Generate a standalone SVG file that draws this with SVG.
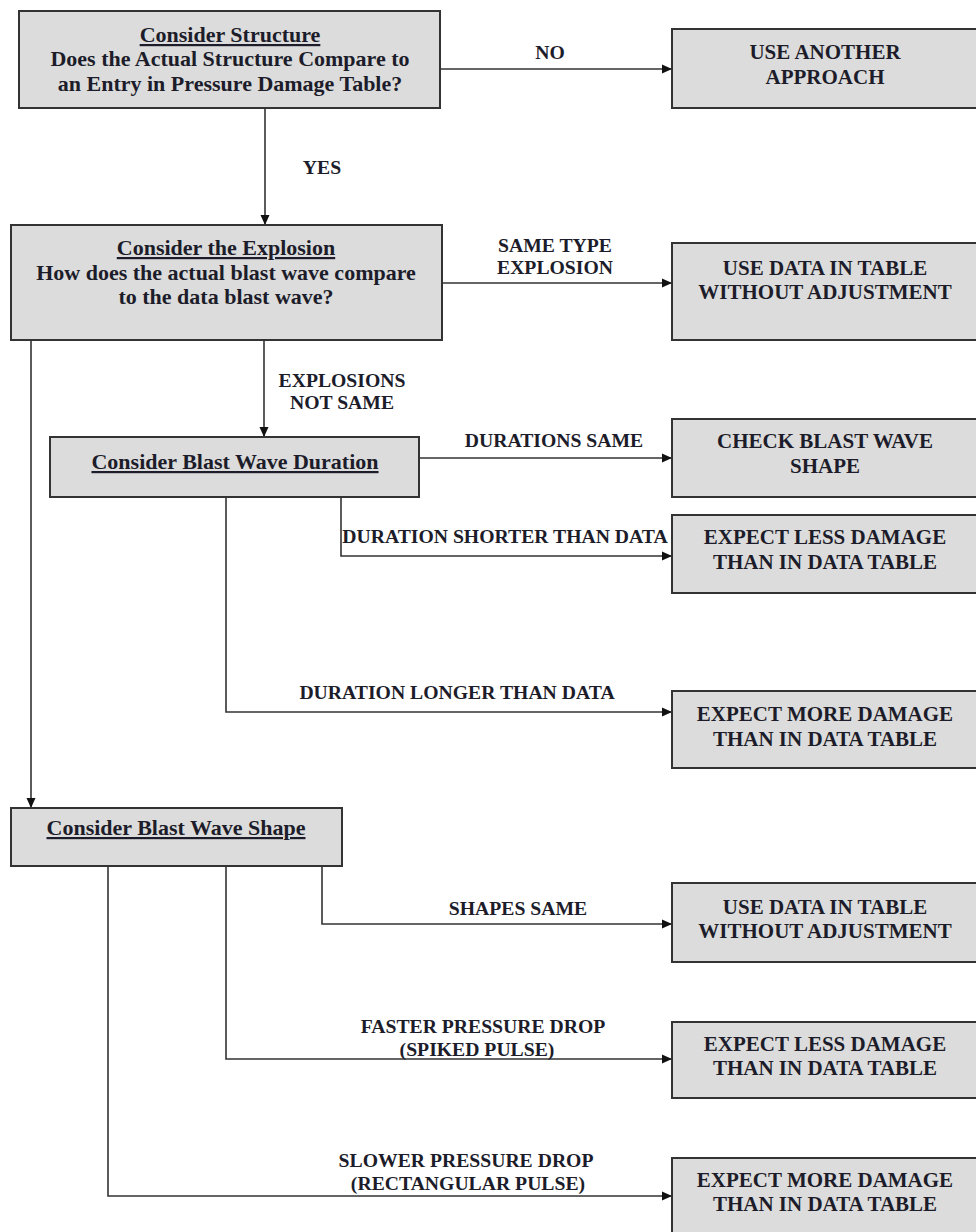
<svg xmlns="http://www.w3.org/2000/svg" width="976" height="1232" viewBox="0 0 976 1232">
<defs>
<marker id="arr" viewBox="0 0 10 10" refX="10" refY="5" markerWidth="10" markerHeight="10" markerUnits="userSpaceOnUse" orient="auto">
<path d="M0,0.5 L10,5 L0,9.5 z" fill="#111"/>
</marker>
<style>
.box{fill:#dcdcdc;stroke:#333;stroke-width:2}
.t{font-family:"Liberation Serif","Times New Roman",serif;font-weight:bold;font-size:21px;fill:#1c1c2a;text-anchor:middle}
.tl{font-size:22px}
.u{text-decoration:underline}
.lbl{font-family:"Liberation Serif","Times New Roman",serif;font-weight:bold;font-size:19.7px;fill:#1c1c2a;text-anchor:middle}
.c{fill:none;stroke:#333;stroke-width:1.6}
</style>
</defs>
<rect width="976" height="1232" fill="#fff"/>

<g id="connectors">
<path class="c" d="M265,108 V225" marker-end="url(#arr)"/>
<path class="c" d="M440,69 H672" marker-end="url(#arr)"/>
<path class="c" d="M442,283 H672" marker-end="url(#arr)"/>
<path class="c" d="M264,340 V437" marker-end="url(#arr)"/>
<path class="c" d="M31,340 V808" marker-end="url(#arr)"/>
<path class="c" d="M419,458 H672" marker-end="url(#arr)"/>
<path class="c" d="M341,497 V556 H672" marker-end="url(#arr)"/>
<path class="c" d="M226,497 V712 H672" marker-end="url(#arr)"/>
<path class="c" d="M322,866 V924 H672" marker-end="url(#arr)"/>
<path class="c" d="M226,866 V1059 H672" marker-end="url(#arr)"/>
<path class="c" d="M108,866 V1196 H672" marker-end="url(#arr)"/>
<text class="lbl" x="550" y="59">NO</text>
<text class="lbl" x="322" y="174">YES</text>
<text class="lbl" x="555" y="252">SAME TYPE</text>
<text class="lbl" x="555" y="274">EXPLOSION</text>
<text class="lbl" x="342" y="387">EXPLOSIONS</text>
<text class="lbl" x="342" y="409">NOT SAME</text>
<text class="lbl" x="554" y="447">DURATIONS SAME</text>
<text class="lbl" x="505" y="543">DURATION SHORTER THAN DATA</text>
<text class="lbl" x="457" y="699">DURATION LONGER THAN DATA</text>
<text class="lbl" x="518" y="915">SHAPES SAME</text>
<text class="lbl" x="483" y="1033">FASTER PRESSURE DROP</text>
<text class="lbl" x="477" y="1056">(SPIKED PULSE)</text>
<text class="lbl" x="466" y="1167">SLOWER PRESSURE DROP</text>
<text class="lbl" x="468" y="1190">(RECTANGULAR PULSE)</text>
</g>

<g id="n-structure">
<rect class="box" x="19" y="11" width="421" height="97"/>
<text class="t tl u" x="230" y="42">Consider Structure</text>
<text class="t tl" x="230" y="66">Does the Actual Structure Compare to</text>
<text class="t tl" x="230" y="91">an Entry in Pressure Damage Table?</text>
</g>
<g id="n-another">
<rect class="box" x="672" y="29" width="310" height="79"/>
<text class="t" x="825" y="59">USE ANOTHER</text>
<text class="t" x="825" y="84">APPROACH</text>
</g>
<g id="n-explosion">
<rect class="box" x="11" y="225" width="431" height="115"/>
<text class="t tl u" x="226" y="255">Consider the Explosion</text>
<text class="t tl" x="226" y="280">How does the actual blast wave compare</text>
<text class="t tl" x="226" y="304">to the data blast wave?</text>
</g>
<g id="n-usedata1">
<rect class="box" x="672" y="243" width="310" height="97"/>
<text class="t" x="825" y="275">USE DATA IN TABLE</text>
<text class="t" x="825" y="299">WITHOUT ADJUSTMENT</text>
</g>
<g id="n-duration">
<rect class="box" x="50" y="437" width="369" height="60"/>
<text class="t tl u" x="235" y="469">Consider Blast Wave Duration</text>
</g>
<g id="n-checkshape">
<rect class="box" x="672" y="419" width="310" height="78"/>
<text class="t" x="825" y="448">CHECK BLAST WAVE</text>
<text class="t" x="825" y="473">SHAPE</text>
</g>
<g id="n-less1">
<rect class="box" x="672" y="515" width="310" height="78"/>
<text class="t" x="825" y="544">EXPECT LESS DAMAGE</text>
<text class="t" x="825" y="569">THAN IN DATA TABLE</text>
</g>
<g id="n-more1">
<rect class="box" x="672" y="691" width="310" height="77"/>
<text class="t" x="825" y="721">EXPECT MORE DAMAGE</text>
<text class="t" x="825" y="746">THAN IN DATA TABLE</text>
</g>
<g id="n-shape">
<rect class="box" x="11" y="808" width="331" height="58"/>
<text class="t tl u" x="176" y="835">Consider Blast Wave Shape</text>
</g>
<g id="n-usedata2">
<rect class="box" x="672" y="883" width="310" height="79"/>
<text class="t" x="825" y="914">USE DATA IN TABLE</text>
<text class="t" x="825" y="938">WITHOUT ADJUSTMENT</text>
</g>
<g id="n-less2">
<rect class="box" x="672" y="1022" width="310" height="76"/>
<text class="t" x="825" y="1051">EXPECT LESS DAMAGE</text>
<text class="t" x="825" y="1075">THAN IN DATA TABLE</text>
</g>
<g id="n-more2">
<rect class="box" x="672" y="1158" width="310" height="90"/>
<text class="t" x="825" y="1187">EXPECT MORE DAMAGE</text>
<text class="t" x="825" y="1211">THAN IN DATA TABLE</text>
</g>
</svg>
